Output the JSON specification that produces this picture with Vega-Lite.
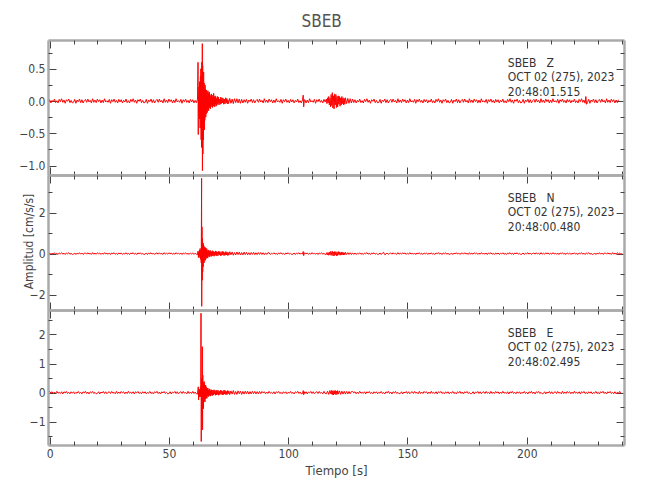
{
"$schema": "https://vega.github.io/schema/vega-lite/v6.json",
"padding": {"left": 18, "top": 12, "right": 5, "bottom": 5},
"title": {"text": "SBEB", "fontSize": 17, "font": "DejaVu Sans Condensed, Roboto, sans-serif", "color": "#555555", "fontWeight": "normal", "anchor": "middle", "offset": 9},
"spacing": 0,
"bounds": "flush",
"config": {
 "view": {"stroke": null},
 "font": "DejaVu Sans Condensed, Roboto, sans-serif",
 "axis": {"domainColor": "#aaaaaa", "domainWidth": 2.5, "tickColor": "#444444", "tickWidth": 1, "grid": false, "labelFont": "DejaVu Sans Condensed, Roboto, sans-serif", "labelFontSize": 12, "labelColor": "#444444", "labelPadding": 3, "labelFlush": false, "labelOverlap": false, "labelBound": false, "titleFont": "DejaVu Sans Condensed, Roboto, sans-serif", "titleFontSize": 12, "titleColor": "#444444", "titleFontWeight": "normal"}
},
"datasets": {
"z": [
{"t":0,"a":0.02},{"t":0.5,"a":-0.03},{"t":1,"a":0.01},{"t":1.5,"a":-0.015},{"t":2,"a":0.03},{"t":2.5,"a":-0.025},{"t":3,"a":0.005},{"t":3.5,"a":-0.03},{"t":4,"a":0.025},{"t":4.5,"a":-0.01},{"t":5,"a":0.035},{"t":5.5,"a":-0.02},{"t":6,"a":0.015},{"t":6.5,"a":-0.035},{"t":7,"a":0.02},{"t":7.5,"a":-0.005},{"t":8,"a":0.03},{"t":8.5,"a":-0.025},{"t":9,"a":0.01},{"t":9.5,"a":-0.03},
{"t":10,"a":-0.02},{"t":10.5,"a":0.025},{"t":11,"a":-0.035},{"t":11.5,"a":0.015},{"t":12,"a":-0.01},{"t":12.5,"a":0.03},{"t":13,"a":-0.025},{"t":13.5,"a":0.02},{"t":14,"a":-0.03},{"t":14.5,"a":0.005},{"t":15,"a":0.025},{"t":15.5,"a":-0.02},{"t":16,"a":0.03},{"t":16.5,"a":-0.015},{"t":17,"a":0.01},{"t":17.5,"a":-0.03},{"t":18,"a":0.035},{"t":18.5,"a":-0.02},{"t":19,"a":0.015},{"t":19.5,"a":-0.025},
{"t":20,"a":0.03},{"t":20.5,"a":-0.01},{"t":21,"a":0.02},{"t":21.5,"a":-0.03},{"t":22,"a":0.015},{"t":22.5,"a":-0.025},{"t":23,"a":0.035},{"t":23.5,"a":-0.015},{"t":24,"a":0.005},{"t":24.5,"a":-0.02},{"t":25,"a":0.025},{"t":25.5,"a":-0.035},{"t":26,"a":0.02},{"t":26.5,"a":-0.01},{"t":27,"a":0.03},{"t":27.5,"a":-0.02},{"t":28,"a":0.01},{"t":28.5,"a":-0.03},{"t":29,"a":0.025},{"t":29.5,"a":-0.015},
{"t":30,"a":0.02},{"t":30.5,"a":-0.03},{"t":31,"a":0.01},{"t":31.5,"a":-0.015},{"t":32,"a":0.03},{"t":32.5,"a":-0.025},{"t":33,"a":0.005},{"t":33.5,"a":-0.03},{"t":34,"a":0.025},{"t":34.5,"a":-0.01},{"t":35,"a":0.035},{"t":35.5,"a":-0.02},{"t":36,"a":0.015},{"t":36.5,"a":-0.035},{"t":37,"a":0.02},{"t":37.5,"a":-0.005},{"t":38,"a":0.03},{"t":38.5,"a":-0.025},{"t":39,"a":0.01},{"t":39.5,"a":-0.03},
{"t":40,"a":-0.02},{"t":40.5,"a":0.025},{"t":41,"a":-0.035},{"t":41.5,"a":0.015},{"t":42,"a":-0.01},{"t":42.5,"a":0.03},{"t":43,"a":-0.025},{"t":43.5,"a":0.02},{"t":44,"a":-0.03},{"t":44.5,"a":0.005},{"t":45,"a":0.025},{"t":45.5,"a":-0.02},{"t":46,"a":0.03},{"t":46.5,"a":-0.015},{"t":47,"a":0.01},{"t":47.5,"a":-0.03},{"t":48,"a":0.035},{"t":48.5,"a":-0.02},{"t":49,"a":0.015},{"t":49.5,"a":-0.025},
{"t":50,"a":0.03},{"t":50.5,"a":-0.01},{"t":51,"a":0.02},{"t":51.5,"a":-0.03},{"t":52,"a":0.015},{"t":52.5,"a":-0.025},{"t":53,"a":0.035},{"t":53.5,"a":-0.015},{"t":54,"a":0.005},{"t":54.5,"a":-0.02},{"t":55,"a":0.025},{"t":55.5,"a":-0.035},{"t":56,"a":0.02},{"t":56.5,"a":-0.01},{"t":57,"a":0.03},{"t":57.5,"a":-0.02},{"t":58,"a":0.01},{"t":58.5,"a":-0.03},{"t":59,"a":0.025},{"t":59.5,"a":-0.015},
{"t":60,"a":0.02},{"t":60.5,"a":-0.03},{"t":61,"a":0.01},{"t":61.5,"a":-0.025},{"t":62,"a":0.03},
{"t":62.2,"a":0.6},{"t":62.3,"a":-0.52},{"t":62.4,"a":0.08},{"t":62.5,"a":-0.15},{"t":62.6,"a":0.22},{"t":62.7,"a":-0.1},{"t":62.8,"a":0.3},{"t":62.9,"a":-0.28},{"t":63,"a":0.15},{"t":63.1,"a":-0.42},{"t":63.2,"a":0.38},{"t":63.3,"a":-0.25},{"t":63.4,"a":0.5},{"t":63.5,"a":-0.6},{"t":63.6,"a":0.3},{"t":63.7,"a":-0.72},{"t":63.8,"a":0.6},{"t":63.9,"a":-0.45},{"t":64,"a":0.89},{"t":64.05,"a":-1.08},{"t":64.15,"a":0.55},{"t":64.25,"a":-0.82},{"t":64.35,"a":0.3},{"t":64.45,"a":-0.6},{"t":64.55,"a":0.45},{"t":64.65,"a":-0.35},{"t":64.75,"a":0.28},{"t":64.85,"a":-0.45},{"t":64.95,"a":0.2},{"t":65.05,"a":-0.3},{"t":65.15,"a":0.25},{"t":65.25,"a":-0.15},{"t":65.35,"a":0.18},{"t":65.45,"a":-0.25},{"t":65.55,"a":0.1},{"t":65.65,"a":-0.2},{"t":65.75,"a":0.17},{"t":65.85,"a":-0.1},{"t":65.95,"a":0.14},{"t":66.05,"a":-0.18},{"t":66.15,"a":0.08},{"t":66.25,"a":-0.13},{"t":66.35,"a":0.16},{"t":66.45,"a":-0.09},{"t":66.55,"a":0.12},{"t":66.65,"a":-0.15},{"t":66.75,"a":0.06},{"t":66.85,"a":-0.11},{"t":66.95,"a":0.14},{"t":67.1,"a":-0.08},{"t":67.25,"a":0.1},{"t":67.4,"a":-0.12},{"t":67.55,"a":0.07},{"t":67.7,"a":-0.09},{"t":67.85,"a":0.11},{"t":68,"a":-0.06},{"t":68.15,"a":0.09},{"t":68.3,"a":-0.1},{"t":68.45,"a":0.05},{"t":68.6,"a":-0.08},{"t":68.75,"a":0.12},{"t":68.9,"a":-0.07},{"t":69.05,"a":0.06},{"t":69.2,"a":-0.09},{"t":69.35,"a":0.08},{"t":69.5,"a":-0.05},{"t":69.65,"a":0.07},{"t":69.8,"a":-0.08},{"t":70,"a":0.04},{"t":70.2,"a":-0.06},{"t":70.4,"a":0.07},{"t":70.6,"a":-0.04},{"t":70.8,"a":0.06},{"t":71,"a":-0.06},{"t":71.25,"a":0.03},{"t":71.5,"a":-0.05},{"t":71.75,"a":0.06},{"t":72,"a":-0.04},{"t":72.25,"a":0.05},{"t":72.5,"a":-0.03},{"t":72.75,"a":0.04},{"t":73,"a":-0.05},{"t":73.25,"a":0.03},{"t":73.5,"a":-0.045},{"t":73.75,"a":0.05},{"t":74,"a":-0.03},{"t":74.25,"a":0.04},{"t":74.5,"a":-0.045},{"t":74.75,"a":0.02},{"t":75,"a":-0.04},{"t":75.5,"a":0.04},{"t":76,"a":-0.035},{"t":76.5,"a":0.03},{"t":77,"a":-0.04},{"t":77.5,"a":0.035},{"t":78,"a":-0.025},{"t":78.5,"a":0.035},{"t":79,"a":-0.03},{"t":79.5,"a":0.03},{"t":80,"a":-0.035},{"t":80.5,"a":0.025},{"t":81,"a":-0.03},{"t":81.5,"a":0.02},
{"t":82,"a":-0.02},{"t":82.5,"a":0.025},{"t":83,"a":-0.035},{"t":83.5,"a":0.015},{"t":84,"a":-0.01},{"t":84.5,"a":0.03},{"t":85,"a":-0.025},{"t":85.5,"a":0.02},{"t":86,"a":-0.03},{"t":86.5,"a":0.005},{"t":87,"a":0.025},{"t":87.5,"a":-0.02},{"t":88,"a":0.03},{"t":88.5,"a":-0.015},{"t":89,"a":0.01},{"t":89.5,"a":-0.03},{"t":90,"a":0.035},{"t":90.5,"a":-0.02},{"t":91,"a":0.015},{"t":91.5,"a":-0.025},
{"t":92,"a":0.03},{"t":92.5,"a":-0.01},{"t":93,"a":0.02},{"t":93.5,"a":-0.03},{"t":94,"a":0.015},{"t":94.5,"a":-0.025},{"t":95,"a":0.035},{"t":95.5,"a":-0.015},{"t":96,"a":0.005},{"t":96.5,"a":-0.02},{"t":97,"a":0.025},{"t":97.5,"a":-0.035},{"t":98,"a":0.02},{"t":98.5,"a":-0.01},{"t":99,"a":0.03},{"t":99.5,"a":-0.02},{"t":100,"a":0.01},{"t":100.5,"a":-0.03},{"t":101,"a":0.025},{"t":101.5,"a":-0.015},
{"t":102,"a":0.02},{"t":102.5,"a":-0.03},{"t":103,"a":0.01},{"t":103.5,"a":-0.015},{"t":104,"a":0.03},{"t":104.5,"a":-0.025},{"t":105,"a":0.005},{"t":105.5,"a":-0.03},
{"t":106,"a":0.02},{"t":106.3,"a":0.09},{"t":106.5,"a":-0.09},{"t":106.8,"a":0.02},
{"t":107,"a":0.02},{"t":107.5,"a":-0.03},{"t":108,"a":0.015},{"t":108.5,"a":-0.025},{"t":109,"a":0.035},{"t":109.5,"a":-0.015},{"t":110,"a":0.005},{"t":110.5,"a":-0.02},{"t":111,"a":0.025},{"t":111.5,"a":-0.035},{"t":112,"a":0.02},{"t":112.5,"a":-0.01},{"t":113,"a":0.03},{"t":113.5,"a":-0.02},{"t":114,"a":0.01},{"t":114.5,"a":-0.03},{"t":115,"a":0.025},{"t":115.5,"a":-0.015},
{"t":116,"a":0.03},{"t":116.25,"a":-0.04},{"t":116.5,"a":0.05},{"t":116.75,"a":-0.03},{"t":117,"a":0.07},{"t":117.25,"a":-0.06},{"t":117.5,"a":0.04},{"t":117.75,"a":-0.09},{"t":118,"a":0.1},{"t":118.25,"a":-0.07},{"t":118.5,"a":0.13},{"t":118.75,"a":-0.11},{"t":119,"a":0.08},{"t":119.25,"a":-0.12},{"t":119.5,"a":0.11},{"t":119.75,"a":-0.06},{"t":120,"a":0.1},{"t":120.25,"a":-0.1},{"t":120.5,"a":0.07},{"t":120.75,"a":-0.09},{"t":121,"a":0.08},{"t":121.25,"a":-0.05},{"t":121.5,"a":0.07},{"t":121.75,"a":-0.08},{"t":122,"a":0.05},{"t":122.25,"a":-0.06},{"t":122.5,"a":0.07},{"t":122.75,"a":-0.04},{"t":123,"a":0.05},{"t":123.25,"a":-0.06},{"t":123.5,"a":0.04},{"t":123.75,"a":-0.05},{"t":124,"a":0.05},{"t":124.5,"a":-0.04},{"t":125,"a":0.04},{"t":125.5,"a":-0.035},{"t":126,"a":0.035},{"t":126.5,"a":-0.03},{"t":127,"a":0.03},{"t":127.5,"a":-0.025},
{"t":128,"a":0.02},{"t":128.5,"a":-0.03},{"t":129,"a":0.01},{"t":129.5,"a":-0.015},{"t":130,"a":0.03},{"t":130.5,"a":-0.025},{"t":131,"a":0.005},{"t":131.5,"a":-0.03},{"t":132,"a":0.025},{"t":132.5,"a":-0.01},{"t":133,"a":0.035},{"t":133.5,"a":-0.02},{"t":134,"a":0.015},{"t":134.5,"a":-0.035},{"t":135,"a":0.02},{"t":135.5,"a":-0.005},{"t":136,"a":0.03},{"t":136.5,"a":-0.025},{"t":137,"a":0.01},{"t":137.5,"a":-0.03},
{"t":138,"a":-0.02},{"t":138.5,"a":0.025},{"t":139,"a":-0.035},{"t":139.5,"a":0.015},{"t":140,"a":-0.01},{"t":140.5,"a":0.03},{"t":141,"a":-0.025},{"t":141.5,"a":0.02},{"t":142,"a":-0.03},{"t":142.5,"a":0.005},{"t":143,"a":0.025},{"t":143.5,"a":-0.02},{"t":144,"a":0.03},{"t":144.5,"a":-0.015},{"t":145,"a":0.01},{"t":145.5,"a":-0.03},{"t":146,"a":0.035},{"t":146.5,"a":-0.02},{"t":147,"a":0.015},{"t":147.5,"a":-0.025},
{"t":148,"a":0.03},{"t":148.5,"a":-0.01},{"t":149,"a":0.02},{"t":149.5,"a":-0.03},{"t":150,"a":0.015},{"t":150.5,"a":-0.025},{"t":151,"a":0.035},{"t":151.5,"a":-0.015},{"t":152,"a":0.005},{"t":152.5,"a":-0.02},{"t":153,"a":0.025},{"t":153.5,"a":-0.035},{"t":154,"a":0.02},{"t":154.5,"a":-0.01},{"t":155,"a":0.03},{"t":155.5,"a":-0.02},{"t":156,"a":0.01},{"t":156.5,"a":-0.03},{"t":157,"a":0.025},{"t":157.5,"a":-0.015},
{"t":158,"a":0.02},{"t":158.5,"a":-0.03},{"t":159,"a":0.01},{"t":159.5,"a":-0.015},{"t":160,"a":0.03},{"t":160.5,"a":-0.025},{"t":161,"a":0.005},{"t":161.5,"a":-0.03},{"t":162,"a":0.025},{"t":162.5,"a":-0.01},{"t":163,"a":0.035},{"t":163.5,"a":-0.02},{"t":164,"a":0.015},{"t":164.5,"a":-0.035},{"t":165,"a":0.02},{"t":165.5,"a":-0.005},{"t":166,"a":0.03},{"t":166.5,"a":-0.025},{"t":167,"a":0.01},{"t":167.5,"a":-0.03},
{"t":168,"a":-0.02},{"t":168.5,"a":0.025},{"t":169,"a":-0.035},{"t":169.5,"a":0.015},{"t":170,"a":-0.01},{"t":170.5,"a":0.03},{"t":171,"a":-0.025},{"t":171.5,"a":0.02},{"t":172,"a":-0.03},{"t":172.5,"a":0.005},{"t":173,"a":0.025},{"t":173.5,"a":-0.02},{"t":174,"a":0.03},{"t":174.5,"a":-0.015},{"t":175,"a":0.01},{"t":175.5,"a":-0.03},{"t":176,"a":0.035},{"t":176.5,"a":-0.02},{"t":177,"a":0.015},{"t":177.5,"a":-0.025},
{"t":178,"a":0.03},{"t":178.5,"a":-0.01},{"t":179,"a":0.02},{"t":179.5,"a":-0.03},{"t":180,"a":0.015},{"t":180.5,"a":-0.025},{"t":181,"a":0.035},{"t":181.5,"a":-0.015},{"t":182,"a":0.005},{"t":182.5,"a":-0.02},{"t":183,"a":0.025},{"t":183.5,"a":-0.035},{"t":184,"a":0.02},{"t":184.5,"a":-0.01},{"t":185,"a":0.03},{"t":185.5,"a":-0.02},{"t":186,"a":0.01},{"t":186.5,"a":-0.03},{"t":187,"a":0.025},{"t":187.5,"a":-0.015},
{"t":188,"a":0.02},{"t":188.5,"a":-0.03},{"t":189,"a":0.01},{"t":189.5,"a":-0.015},{"t":190,"a":0.03},{"t":190.5,"a":-0.025},{"t":191,"a":0.005},{"t":191.5,"a":-0.03},{"t":192,"a":0.025},{"t":192.5,"a":-0.01},{"t":193,"a":0.035},{"t":193.5,"a":-0.02},{"t":194,"a":0.015},{"t":194.5,"a":-0.035},{"t":195,"a":0.02},{"t":195.5,"a":-0.005},{"t":196,"a":0.03},{"t":196.5,"a":-0.025},{"t":197,"a":0.01},{"t":197.5,"a":-0.03},
{"t":198,"a":-0.02},{"t":198.5,"a":0.025},{"t":199,"a":-0.035},{"t":199.5,"a":0.015},{"t":200,"a":-0.01},{"t":200.5,"a":0.03},{"t":201,"a":-0.025},{"t":201.5,"a":0.02},{"t":202,"a":-0.03},{"t":202.5,"a":0.005},{"t":203,"a":0.025},{"t":203.5,"a":-0.02},{"t":204,"a":0.03},{"t":204.5,"a":-0.015},{"t":205,"a":0.01},{"t":205.5,"a":-0.03},{"t":206,"a":0.035},{"t":206.5,"a":-0.02},{"t":207,"a":0.015},{"t":207.5,"a":-0.025},
{"t":208,"a":0.03},{"t":208.5,"a":-0.01},{"t":209,"a":0.02},{"t":209.5,"a":-0.03},{"t":210,"a":0.015},{"t":210.5,"a":-0.025},{"t":211,"a":0.035},{"t":211.5,"a":-0.015},{"t":212,"a":0.005},{"t":212.5,"a":-0.02},{"t":213,"a":0.025},{"t":213.5,"a":-0.035},{"t":214,"a":0.02},{"t":214.5,"a":-0.01},{"t":215,"a":0.03},{"t":215.5,"a":-0.02},{"t":216,"a":0.01},{"t":216.5,"a":-0.03},{"t":217,"a":0.025},{"t":217.5,"a":-0.015},
{"t":218,"a":0.02},{"t":218.5,"a":-0.03},{"t":219,"a":0.01},{"t":219.5,"a":-0.015},{"t":220,"a":0.03},{"t":220.5,"a":-0.025},{"t":221,"a":0.005},{"t":221.5,"a":-0.03},{"t":222,"a":0.025},{"t":222.5,"a":-0.01},{"t":223,"a":0.035},{"t":223.5,"a":-0.02},{"t":224,"a":0.015},{"t":224.5,"a":-0.035},
{"t":224.8,"a":0.07},{"t":225.1,"a":-0.05},
{"t":225.5,"a":-0.02},{"t":226,"a":0.025},{"t":226.5,"a":-0.035},{"t":227,"a":0.015},{"t":227.5,"a":-0.01},{"t":228,"a":0.03},{"t":228.5,"a":-0.025},{"t":229,"a":0.02},{"t":229.5,"a":-0.03},{"t":230,"a":0.005},{"t":230.5,"a":0.025},{"t":231,"a":-0.02},{"t":231.5,"a":0.03},{"t":232,"a":-0.015},{"t":232.5,"a":0.01},{"t":233,"a":-0.03},{"t":233.5,"a":0.035},{"t":234,"a":-0.02},{"t":234.5,"a":0.015},{"t":235,"a":-0.025},{"t":235.5,"a":0.03},{"t":236,"a":-0.01},{"t":236.5,"a":0.02},{"t":237,"a":-0.03},{"t":237.5,"a":0.015},{"t":238,"a":-0.025},{"t":238.5,"a":0.02}
],
"n": [
{"t":0,"a":0.03},{"t":0.5,"a":-0.04},{"t":1,"a":0.01},{"t":1.5,"a":-0.02},{"t":2,"a":0.04},{"t":2.5,"a":-0.03},{"t":3,"a":0.01},{"t":3.5,"a":-0.045},{"t":4,"a":0.03},{"t":4.5,"a":-0.01},{"t":5,"a":0.045},{"t":5.5,"a":-0.03},{"t":6,"a":0.02},{"t":6.5,"a":-0.045},{"t":7,"a":0.03},{"t":7.5,"a":-0.01},{"t":8,"a":0.04},{"t":8.5,"a":-0.03},{"t":9,"a":0.01},{"t":9.5,"a":-0.04},
{"t":10,"a":-0.03},{"t":10.5,"a":0.03},{"t":11,"a":-0.045},{"t":11.5,"a":0.02},{"t":12,"a":-0.01},{"t":12.5,"a":0.04},{"t":13,"a":-0.03},{"t":13.5,"a":0.03},{"t":14,"a":-0.04},{"t":14.5,"a":0.01},{"t":15,"a":0.03},{"t":15.5,"a":-0.03},{"t":16,"a":0.04},{"t":16.5,"a":-0.02},{"t":17,"a":0.01},{"t":17.5,"a":-0.04},{"t":18,"a":0.045},{"t":18.5,"a":-0.03},{"t":19,"a":0.02},{"t":19.5,"a":-0.03},
{"t":20,"a":0.04},{"t":20.5,"a":-0.01},{"t":21,"a":0.03},{"t":21.5,"a":-0.04},{"t":22,"a":0.02},{"t":22.5,"a":-0.03},{"t":23,"a":0.045},{"t":23.5,"a":-0.02},{"t":24,"a":0.01},{"t":24.5,"a":-0.03},{"t":25,"a":0.03},{"t":25.5,"a":-0.045},{"t":26,"a":0.03},{"t":26.5,"a":-0.01},{"t":27,"a":0.04},{"t":27.5,"a":-0.03},{"t":28,"a":0.01},{"t":28.5,"a":-0.04},{"t":29,"a":0.03},{"t":29.5,"a":-0.02},
{"t":30,"a":0.03},{"t":30.5,"a":-0.04},{"t":31,"a":0.01},{"t":31.5,"a":-0.02},{"t":32,"a":0.04},{"t":32.5,"a":-0.03},{"t":33,"a":0.01},{"t":33.5,"a":-0.045},{"t":34,"a":0.03},{"t":34.5,"a":-0.01},{"t":35,"a":0.045},{"t":35.5,"a":-0.03},{"t":36,"a":0.02},{"t":36.5,"a":-0.045},{"t":37,"a":0.03},{"t":37.5,"a":-0.01},{"t":38,"a":0.04},{"t":38.5,"a":-0.03},{"t":39,"a":0.01},{"t":39.5,"a":-0.04},
{"t":40,"a":-0.03},{"t":40.5,"a":0.03},{"t":41,"a":-0.045},{"t":41.5,"a":0.02},{"t":42,"a":-0.01},{"t":42.5,"a":0.04},{"t":43,"a":-0.03},{"t":43.5,"a":0.03},{"t":44,"a":-0.04},{"t":44.5,"a":0.01},{"t":45,"a":0.03},{"t":45.5,"a":-0.03},{"t":46,"a":0.04},{"t":46.5,"a":-0.02},{"t":47,"a":0.01},{"t":47.5,"a":-0.04},{"t":48,"a":0.045},{"t":48.5,"a":-0.03},{"t":49,"a":0.02},{"t":49.5,"a":-0.03},
{"t":50,"a":0.04},{"t":50.5,"a":-0.01},{"t":51,"a":0.03},{"t":51.5,"a":-0.04},{"t":52,"a":0.02},{"t":52.5,"a":-0.03},{"t":53,"a":0.045},{"t":53.5,"a":-0.02},{"t":54,"a":0.01},{"t":54.5,"a":-0.03},{"t":55,"a":0.03},{"t":55.5,"a":-0.045},{"t":56,"a":0.03},{"t":56.5,"a":-0.01},{"t":57,"a":0.04},{"t":57.5,"a":-0.03},{"t":58,"a":0.01},{"t":58.5,"a":-0.04},{"t":59,"a":0.03},{"t":59.5,"a":-0.02},
{"t":60,"a":0.03},{"t":60.5,"a":-0.04},{"t":61,"a":0.02},{"t":61.5,"a":-0.03},
{"t":62,"a":-0.05},{"t":62.2,"a":0.12},{"t":62.35,"a":-0.18},{"t":62.5,"a":0.08},{"t":62.65,"a":-0.2},{"t":62.8,"a":0.18},{"t":62.95,"a":-0.1},{"t":63.1,"a":0.25},{"t":63.25,"a":-0.28},{"t":63.4,"a":0.15},{"t":63.55,"a":-0.45},{"t":63.7,"a":3.67},{"t":63.75,"a":-2.57},{"t":63.85,"a":1.3},{"t":63.95,"a":-1.3},{"t":64.05,"a":0.73},{"t":64.15,"a":-0.9},{"t":64.25,"a":0.4},{"t":64.35,"a":-0.65},{"t":64.45,"a":0.5},{"t":64.55,"a":-0.35},{"t":64.65,"a":0.38},{"t":64.75,"a":-0.45},{"t":64.85,"a":0.25},{"t":64.95,"a":-0.3},{"t":65.05,"a":0.32},{"t":65.15,"a":-0.2},{"t":65.25,"a":0.28},{"t":65.35,"a":-0.33},{"t":65.45,"a":0.15},{"t":65.55,"a":-0.25},{"t":65.65,"a":0.22},{"t":65.75,"a":-0.15},{"t":65.85,"a":0.25},{"t":65.95,"a":-0.2},{"t":66.1,"a":0.12},{"t":66.25,"a":-0.22},{"t":66.4,"a":0.18},{"t":66.55,"a":-0.1},{"t":66.7,"a":0.16},{"t":66.85,"a":-0.17},{"t":67,"a":0.1},{"t":67.15,"a":-0.14},{"t":67.3,"a":0.15},{"t":67.45,"a":-0.08},{"t":67.6,"a":0.13},{"t":67.75,"a":-0.14},{"t":67.9,"a":0.07},{"t":68.1,"a":-0.12},{"t":68.3,"a":0.14},{"t":68.5,"a":-0.09},{"t":68.7,"a":0.1},{"t":68.9,"a":-0.13},{"t":69.1,"a":0.08},{"t":69.3,"a":-0.1},{"t":69.5,"a":0.13},{"t":69.7,"a":-0.07},{"t":69.9,"a":0.1},{"t":70.1,"a":-0.12},{"t":70.35,"a":0.08},{"t":70.6,"a":-0.1},{"t":70.85,"a":0.11},{"t":71.1,"a":-0.06},{"t":71.35,"a":0.1},{"t":71.6,"a":-0.1},{"t":71.85,"a":0.06},{"t":72.1,"a":-0.09},{"t":72.35,"a":0.11},{"t":72.6,"a":-0.07},{"t":72.85,"a":0.09},{"t":73.1,"a":-0.1},{"t":73.35,"a":0.05},{"t":73.6,"a":-0.08},{"t":73.85,"a":0.1},{"t":74.1,"a":-0.07},{"t":74.35,"a":0.08},{"t":74.6,"a":-0.09},{"t":74.85,"a":0.05},{"t":75.1,"a":-0.08},{"t":75.5,"a":0.09},{"t":76,"a":-0.06},{"t":76.5,"a":0.08},{"t":77,"a":-0.08},{"t":77.5,"a":0.05},{"t":78,"a":-0.07},{"t":78.5,"a":0.08},{"t":79,"a":-0.05},{"t":79.5,"a":0.07},{"t":80,"a":-0.07},{"t":80.5,"a":0.05},{"t":81,"a":-0.06},{"t":81.5,"a":0.07},{"t":82,"a":-0.05},{"t":82.5,"a":0.06},{"t":83,"a":-0.06},{"t":83.5,"a":0.04},{"t":84,"a":-0.06},{"t":84.5,"a":0.05},{"t":85,"a":-0.04},{"t":85.5,"a":0.06},{"t":86,"a":-0.05},{"t":86.5,"a":0.04},{"t":87,"a":-0.05},{"t":87.5,"a":0.05},{"t":88,"a":-0.04},{"t":88.5,"a":0.05},{"t":89,"a":-0.045},{"t":89.5,"a":0.04},{"t":90,"a":-0.05},{"t":90.5,"a":0.035},{"t":91,"a":-0.04},{"t":91.5,"a":0.045},
{"t":92,"a":0.03},{"t":92.5,"a":-0.04},{"t":93,"a":0.01},{"t":93.5,"a":-0.02},{"t":94,"a":0.04},{"t":94.5,"a":-0.03},{"t":95,"a":0.01},{"t":95.5,"a":-0.045},{"t":96,"a":0.03},{"t":96.5,"a":-0.01},{"t":97,"a":0.045},{"t":97.5,"a":-0.03},{"t":98,"a":0.02},{"t":98.5,"a":-0.045},{"t":99,"a":0.03},{"t":99.5,"a":-0.01},{"t":100,"a":0.04},{"t":100.5,"a":-0.03},{"t":101,"a":0.01},{"t":101.5,"a":-0.04},
{"t":102,"a":-0.03},{"t":102.5,"a":0.03},{"t":103,"a":-0.045},{"t":103.5,"a":0.02},{"t":104,"a":-0.01},{"t":104.5,"a":0.04},{"t":105,"a":-0.03},{"t":105.5,"a":0.03},
{"t":106,"a":-0.03},{"t":106.3,"a":0.1},{"t":106.5,"a":-0.1},{"t":106.8,"a":0.03},
{"t":107,"a":0.04},{"t":107.5,"a":-0.01},{"t":108,"a":0.03},{"t":108.5,"a":-0.04},{"t":109,"a":0.02},{"t":109.5,"a":-0.03},{"t":110,"a":0.045},{"t":110.5,"a":-0.02},{"t":111,"a":0.01},{"t":111.5,"a":-0.03},{"t":112,"a":0.03},{"t":112.5,"a":-0.045},{"t":113,"a":0.03},{"t":113.5,"a":-0.01},{"t":114,"a":0.04},{"t":114.5,"a":-0.03},{"t":115,"a":0.01},{"t":115.5,"a":-0.04},
{"t":116,"a":-0.04},{"t":116.25,"a":0.05},{"t":116.5,"a":-0.06},{"t":116.75,"a":0.04},{"t":117,"a":-0.08},{"t":117.25,"a":0.07},{"t":117.5,"a":-0.05},{"t":117.75,"a":0.1},{"t":118,"a":-0.09},{"t":118.25,"a":0.06},{"t":118.5,"a":0.12},{"t":118.75,"a":-0.1},{"t":119,"a":0.07},{"t":119.25,"a":-0.12},{"t":119.5,"a":0.1},{"t":119.75,"a":-0.06},{"t":120,"a":0.09},{"t":120.25,"a":-0.11},{"t":120.5,"a":0.06},{"t":120.75,"a":-0.09},{"t":121,"a":0.1},{"t":121.25,"a":-0.05},{"t":121.5,"a":0.08},{"t":121.75,"a":-0.08},{"t":122,"a":0.05},{"t":122.25,"a":-0.07},{"t":122.5,"a":0.08},{"t":122.75,"a":-0.05},{"t":123,"a":0.06},{"t":123.25,"a":-0.07},{"t":123.5,"a":0.04},{"t":123.75,"a":-0.06},{"t":124,"a":0.06},{"t":124.5,"a":-0.05},{"t":125,"a":0.05},{"t":125.5,"a":-0.045},{"t":126,"a":0.04},{"t":126.5,"a":-0.045},{"t":127,"a":0.035},{"t":127.5,"a":-0.04},
{"t":128,"a":0.03},{"t":128.5,"a":-0.04},{"t":129,"a":0.01},{"t":129.5,"a":-0.02},{"t":130,"a":0.04},{"t":130.5,"a":-0.03},{"t":131,"a":0.01},{"t":131.5,"a":-0.045},{"t":132,"a":0.03},{"t":132.5,"a":-0.01},{"t":133,"a":0.045},{"t":133.5,"a":-0.03},{"t":134,"a":0.02},{"t":134.5,"a":-0.045},{"t":135,"a":0.03},{"t":135.5,"a":-0.01},{"t":136,"a":0.04},{"t":136.5,"a":-0.03},{"t":137,"a":0.01},{"t":137.5,"a":-0.04},
{"t":138,"a":-0.03},{"t":138.5,"a":0.03},{"t":139,"a":-0.045},{"t":139.5,"a":0.02},{"t":140,"a":0.06},{"t":140.5,"a":-0.05},{"t":141,"a":-0.03},{"t":141.5,"a":0.03},{"t":142,"a":-0.04},{"t":142.5,"a":0.01},{"t":143,"a":0.03},{"t":143.5,"a":-0.03},{"t":144,"a":0.04},{"t":144.5,"a":-0.02},{"t":145,"a":0.01},{"t":145.5,"a":-0.04},{"t":146,"a":0.045},{"t":146.5,"a":-0.03},{"t":147,"a":0.02},{"t":147.5,"a":-0.03},
{"t":148,"a":0.04},{"t":148.5,"a":-0.01},{"t":149,"a":0.03},{"t":149.5,"a":-0.04},{"t":150,"a":0.02},{"t":150.5,"a":-0.03},{"t":151,"a":0.045},{"t":151.5,"a":-0.02},{"t":152,"a":0.01},{"t":152.5,"a":-0.03},{"t":153,"a":0.03},{"t":153.5,"a":-0.045},{"t":154,"a":0.03},{"t":154.5,"a":-0.01},{"t":155,"a":0.04},{"t":155.5,"a":-0.03},{"t":156,"a":0.01},{"t":156.5,"a":-0.04},{"t":157,"a":0.03},{"t":157.5,"a":-0.02},
{"t":158,"a":0.03},{"t":158.5,"a":-0.04},{"t":159,"a":0.01},{"t":159.5,"a":-0.02},{"t":160,"a":0.04},{"t":160.5,"a":-0.03},{"t":161,"a":0.01},{"t":161.5,"a":-0.045},{"t":162,"a":0.03},{"t":162.5,"a":-0.01},{"t":163,"a":0.045},{"t":163.5,"a":-0.03},{"t":164,"a":0.02},{"t":164.5,"a":-0.045},{"t":165,"a":0.03},{"t":165.5,"a":-0.01},{"t":166,"a":0.04},{"t":166.5,"a":-0.03},{"t":167,"a":0.01},{"t":167.5,"a":-0.04},
{"t":168,"a":-0.03},{"t":168.5,"a":0.03},{"t":169,"a":-0.045},{"t":169.5,"a":0.02},{"t":170,"a":-0.01},{"t":170.5,"a":0.04},{"t":171,"a":-0.03},{"t":171.5,"a":0.03},{"t":172,"a":-0.04},{"t":172.5,"a":0.01},{"t":173,"a":0.03},{"t":173.5,"a":-0.03},{"t":174,"a":0.04},{"t":174.5,"a":-0.02},{"t":175,"a":0.01},{"t":175.5,"a":-0.04},{"t":176,"a":0.045},{"t":176.5,"a":-0.03},{"t":177,"a":0.02},{"t":177.5,"a":-0.03},
{"t":178,"a":0.04},{"t":178.5,"a":-0.01},{"t":179,"a":0.03},{"t":179.5,"a":-0.04},{"t":180,"a":0.02},{"t":180.5,"a":-0.03},{"t":181,"a":0.045},{"t":181.5,"a":-0.02},{"t":182,"a":0.01},{"t":182.5,"a":-0.03},{"t":183,"a":0.03},{"t":183.5,"a":-0.045},{"t":184,"a":0.03},{"t":184.5,"a":-0.01},{"t":185,"a":0.04},{"t":185.5,"a":-0.03},{"t":186,"a":0.01},{"t":186.5,"a":-0.04},{"t":187,"a":0.03},{"t":187.5,"a":-0.02},
{"t":188,"a":0.03},{"t":188.5,"a":-0.04},{"t":189,"a":0.01},{"t":189.5,"a":-0.02},{"t":190,"a":0.04},{"t":190.5,"a":-0.03},{"t":191,"a":0.01},{"t":191.5,"a":-0.045},{"t":192,"a":0.03},{"t":192.5,"a":-0.01},{"t":193,"a":0.045},{"t":193.5,"a":-0.03},{"t":194,"a":0.02},{"t":194.5,"a":-0.045},{"t":195,"a":0.03},{"t":195.5,"a":-0.01},{"t":196,"a":0.04},{"t":196.5,"a":-0.03},{"t":197,"a":0.01},{"t":197.5,"a":-0.04},
{"t":198,"a":-0.03},{"t":198.5,"a":0.03},{"t":199,"a":-0.045},{"t":199.5,"a":0.02},{"t":200,"a":-0.01},{"t":200.5,"a":0.04},{"t":201,"a":-0.03},{"t":201.5,"a":0.03},{"t":202,"a":-0.04},{"t":202.5,"a":0.01},{"t":203,"a":0.03},{"t":203.5,"a":-0.03},{"t":204,"a":0.04},{"t":204.5,"a":-0.02},{"t":205,"a":0.01},{"t":205.5,"a":-0.04},{"t":206,"a":0.045},{"t":206.5,"a":-0.03},{"t":207,"a":0.02},{"t":207.5,"a":-0.03},
{"t":208,"a":0.04},{"t":208.5,"a":-0.01},{"t":209,"a":0.03},{"t":209.5,"a":-0.04},{"t":210,"a":0.02},{"t":210.5,"a":-0.03},{"t":211,"a":0.045},{"t":211.5,"a":-0.02},{"t":212,"a":0.01},{"t":212.5,"a":-0.03},{"t":213,"a":0.03},{"t":213.5,"a":-0.045},{"t":214,"a":0.03},{"t":214.5,"a":-0.01},{"t":215,"a":0.04},{"t":215.5,"a":-0.03},{"t":216,"a":0.01},{"t":216.5,"a":-0.04},{"t":217,"a":0.03},{"t":217.5,"a":-0.02},
{"t":218,"a":0.03},{"t":218.5,"a":-0.04},{"t":219,"a":0.01},{"t":219.5,"a":-0.02},{"t":220,"a":0.04},{"t":220.5,"a":-0.03},{"t":221,"a":0.01},{"t":221.5,"a":-0.045},{"t":222,"a":0.03},{"t":222.5,"a":-0.01},{"t":223,"a":0.045},{"t":223.5,"a":-0.03},{"t":224,"a":0.02},{"t":224.5,"a":-0.045},{"t":225,"a":0.03},{"t":225.5,"a":-0.01},{"t":226,"a":0.04},{"t":226.5,"a":-0.03},{"t":227,"a":0.01},{"t":227.5,"a":-0.04},
{"t":228,"a":-0.03},{"t":228.5,"a":0.03},{"t":229,"a":-0.045},{"t":229.5,"a":0.02},{"t":230,"a":-0.01},{"t":230.5,"a":0.04},{"t":231,"a":-0.03},{"t":231.5,"a":0.03},{"t":232,"a":-0.04},{"t":232.5,"a":0.01},{"t":233,"a":0.03},{"t":233.5,"a":-0.03},{"t":234,"a":0.04},{"t":234.5,"a":-0.02},{"t":235,"a":0.01},{"t":235.5,"a":-0.04},{"t":236,"a":0.045},{"t":236.5,"a":-0.03},{"t":237,"a":0.02},{"t":237.5,"a":-0.03},
{"t":238,"a":0.04},{"t":238.5,"a":-0.01},{"t":239,"a":0.03},{"t":239.5,"a":-0.04},{"t":240,"a":0.02}
],
"e": [
{"t":0,"a":0.04},{"t":0.5,"a":-0.01},{"t":1,"a":0.03},{"t":1.5,"a":-0.04},{"t":2,"a":0.02},{"t":2.5,"a":-0.03},{"t":3,"a":0.045},{"t":3.5,"a":-0.02},{"t":4,"a":0.01},{"t":4.5,"a":-0.03},{"t":5,"a":0.03},{"t":5.5,"a":-0.045},{"t":6,"a":0.03},{"t":6.5,"a":-0.01},{"t":7,"a":0.04},{"t":7.5,"a":-0.03},{"t":8,"a":0.01},{"t":8.5,"a":-0.04},{"t":9,"a":0.03},{"t":9.5,"a":-0.02},
{"t":10,"a":0.03},{"t":10.5,"a":-0.04},{"t":11,"a":0.01},{"t":11.5,"a":-0.02},{"t":12,"a":0.04},{"t":12.5,"a":-0.03},{"t":13,"a":0.01},{"t":13.5,"a":-0.045},{"t":14,"a":0.03},{"t":14.5,"a":-0.01},{"t":15,"a":0.045},{"t":15.5,"a":-0.03},{"t":16,"a":0.02},{"t":16.5,"a":-0.045},{"t":17,"a":0.03},{"t":17.5,"a":-0.01},{"t":18,"a":0.04},{"t":18.5,"a":-0.03},{"t":19,"a":0.01},{"t":19.5,"a":-0.04},
{"t":20,"a":-0.03},{"t":20.5,"a":0.03},{"t":21,"a":-0.045},{"t":21.5,"a":0.02},{"t":22,"a":-0.01},{"t":22.5,"a":0.04},{"t":23,"a":-0.03},{"t":23.5,"a":0.03},{"t":24,"a":-0.04},{"t":24.5,"a":0.01},{"t":25,"a":0.03},{"t":25.5,"a":-0.03},{"t":26,"a":0.04},{"t":26.5,"a":-0.02},{"t":27,"a":0.01},{"t":27.5,"a":-0.04},{"t":28,"a":0.045},{"t":28.5,"a":-0.03},{"t":29,"a":0.02},{"t":29.5,"a":-0.03},
{"t":30,"a":0.04},{"t":30.5,"a":-0.01},{"t":31,"a":0.03},{"t":31.5,"a":-0.04},{"t":32,"a":0.02},{"t":32.5,"a":-0.03},{"t":33,"a":0.045},{"t":33.5,"a":-0.02},{"t":34,"a":0.01},{"t":34.5,"a":-0.03},{"t":35,"a":0.03},{"t":35.5,"a":-0.045},{"t":36,"a":0.03},{"t":36.5,"a":-0.01},{"t":37,"a":0.04},{"t":37.5,"a":-0.03},{"t":38,"a":0.01},{"t":38.5,"a":-0.04},{"t":39,"a":0.03},{"t":39.5,"a":-0.02},
{"t":40,"a":0.03},{"t":40.5,"a":-0.04},{"t":41,"a":0.01},{"t":41.5,"a":-0.02},{"t":42,"a":0.04},{"t":42.5,"a":-0.03},{"t":43,"a":0.01},{"t":43.5,"a":-0.045},{"t":44,"a":0.03},{"t":44.5,"a":-0.01},{"t":45,"a":0.045},{"t":45.5,"a":-0.03},{"t":46,"a":0.02},{"t":46.5,"a":-0.045},{"t":47,"a":0.03},{"t":47.5,"a":-0.01},{"t":48,"a":0.04},{"t":48.5,"a":-0.03},{"t":49,"a":0.01},{"t":49.5,"a":-0.04},
{"t":50,"a":-0.03},{"t":50.5,"a":0.03},{"t":51,"a":-0.045},{"t":51.5,"a":0.02},{"t":52,"a":-0.01},{"t":52.5,"a":0.04},{"t":53,"a":-0.03},{"t":53.5,"a":0.03},{"t":54,"a":-0.04},{"t":54.5,"a":0.01},{"t":55,"a":0.03},{"t":55.5,"a":-0.03},{"t":56,"a":0.04},{"t":56.5,"a":-0.02},{"t":57,"a":0.01},{"t":57.5,"a":-0.04},{"t":58,"a":0.045},{"t":58.5,"a":-0.03},{"t":59,"a":0.02},{"t":59.5,"a":-0.03},
{"t":60,"a":0.04},{"t":60.5,"a":-0.03},{"t":61,"a":0.02},{"t":61.5,"a":-0.04},
{"t":62,"a":-0.05},{"t":62.15,"a":0.1},{"t":62.3,"a":0.2},{"t":62.45,"a":-0.25},{"t":62.6,"a":0.08},{"t":62.75,"a":-0.15},{"t":62.9,"a":0.12},{"t":63.05,"a":-0.08},{"t":63.2,"a":0.2},{"t":63.35,"a":-0.15},{"t":63.45,"a":2.73},{"t":63.55,"a":-1.68},{"t":63.7,"a":0.5},{"t":63.85,"a":-0.8},{"t":64,"a":1.58},{"t":64.1,"a":-1.28},{"t":64.2,"a":0.6},{"t":64.3,"a":-0.45},{"t":64.4,"a":0.35},{"t":64.5,"a":-0.55},{"t":64.6,"a":0.28},{"t":64.7,"a":-0.3},{"t":64.8,"a":0.38},{"t":64.9,"a":-0.2},{"t":65,"a":0.25},{"t":65.1,"a":-0.32},{"t":65.2,"a":0.15},{"t":65.3,"a":-0.22},{"t":65.4,"a":0.26},{"t":65.5,"a":-0.12},{"t":65.6,"a":0.2},{"t":65.7,"a":-0.18},{"t":65.8,"a":0.1},{"t":65.9,"a":-0.2},{"t":66,"a":0.15},{"t":66.15,"a":-0.1},{"t":66.3,"a":0.16},{"t":66.45,"a":-0.14},{"t":66.6,"a":0.08},{"t":66.75,"a":-0.12},{"t":66.9,"a":0.13},{"t":67.05,"a":-0.07},{"t":67.2,"a":0.11},{"t":67.35,"a":-0.12},{"t":67.5,"a":0.06},{"t":67.65,"a":-0.1},{"t":67.8,"a":0.1},{"t":67.95,"a":-0.06},{"t":68.1,"a":0.09},{"t":68.3,"a":-0.1},{"t":68.5,"a":0.06},{"t":68.7,"a":-0.08},{"t":68.9,"a":0.1},{"t":69.1,"a":-0.05},{"t":69.3,"a":0.08},{"t":69.5,"a":-0.09},{"t":69.7,"a":0.05},{"t":69.9,"a":-0.08},{"t":70.1,"a":0.09},{"t":70.35,"a":-0.06},{"t":70.6,"a":0.08},{"t":70.85,"a":-0.09},{"t":71.1,"a":0.05},{"t":71.35,"a":-0.07},{"t":71.6,"a":0.08},{"t":71.85,"a":-0.05},{"t":72.1,"a":0.07},{"t":72.35,"a":-0.08},{"t":72.6,"a":0.05},{"t":72.85,"a":-0.07},{"t":73.1,"a":0.09},{"t":73.35,"a":-0.05},{"t":73.6,"a":0.07},{"t":73.85,"a":-0.07},{"t":74.1,"a":0.04},{"t":74.35,"a":-0.07},{"t":74.6,"a":0.07},{"t":74.85,"a":-0.04},{"t":75.1,"a":0.06},{"t":75.5,"a":-0.07},{"t":76,"a":0.06},{"t":76.5,"a":-0.05},{"t":77,"a":0.07},{"t":77.5,"a":-0.06},{"t":78,"a":0.04},{"t":78.5,"a":-0.06},{"t":79,"a":0.06},{"t":79.5,"a":-0.04},{"t":80,"a":0.05},{"t":80.5,"a":-0.06},{"t":81,"a":0.04},{"t":81.5,"a":-0.05},{"t":82,"a":0.05},{"t":82.5,"a":-0.04},{"t":83,"a":0.05},{"t":83.5,"a":-0.05},{"t":84,"a":0.035},{"t":84.5,"a":-0.045},{"t":85,"a":0.045},{"t":85.5,"a":-0.035},{"t":86,"a":0.04},{"t":86.5,"a":-0.045},{"t":87,"a":0.035},{"t":87.5,"a":-0.04},{"t":88,"a":0.04},{"t":88.5,"a":-0.035},
{"t":89,"a":0.04},{"t":89.5,"a":-0.01},{"t":90,"a":0.03},{"t":90.5,"a":-0.04},{"t":91,"a":0.02},{"t":91.5,"a":-0.03},{"t":92,"a":0.045},{"t":92.5,"a":-0.02},{"t":93,"a":0.01},{"t":93.5,"a":-0.03},{"t":94,"a":0.03},{"t":94.5,"a":-0.045},{"t":95,"a":0.03},{"t":95.5,"a":-0.01},{"t":96,"a":0.04},{"t":96.5,"a":-0.03},{"t":97,"a":0.01},{"t":97.5,"a":-0.04},{"t":98,"a":0.03},{"t":98.5,"a":-0.02},
{"t":99,"a":0.03},{"t":99.5,"a":-0.04},{"t":100,"a":0.01},{"t":100.5,"a":-0.02},{"t":101,"a":0.04},{"t":101.5,"a":-0.03},{"t":102,"a":0.01},{"t":102.5,"a":-0.045},{"t":103,"a":0.03},{"t":103.5,"a":-0.01},{"t":104,"a":0.045},{"t":104.5,"a":-0.03},{"t":105,"a":0.02},{"t":105.5,"a":-0.045},
{"t":106,"a":-0.03},{"t":106.3,"a":0.07},{"t":106.5,"a":-0.07},{"t":106.8,"a":0.03},
{"t":107,"a":-0.03},{"t":107.5,"a":0.03},{"t":108,"a":-0.045},{"t":108.5,"a":0.02},{"t":109,"a":-0.01},{"t":109.5,"a":0.04},{"t":110,"a":-0.03},{"t":110.5,"a":0.03},{"t":111,"a":-0.04},{"t":111.5,"a":0.01},{"t":112,"a":0.03},{"t":112.5,"a":-0.03},{"t":113,"a":0.04},{"t":113.5,"a":-0.02},{"t":114,"a":0.01},{"t":114.5,"a":-0.04},{"t":115,"a":0.045},{"t":115.5,"a":-0.03},
{"t":116,"a":-0.04},{"t":116.5,"a":0.05},{"t":117,"a":-0.06},{"t":117.5,"a":0.07},{"t":118,"a":-0.05},{"t":118.25,"a":0.08},{"t":118.5,"a":-0.07},{"t":118.75,"a":0.06},{"t":119,"a":-0.08},{"t":119.25,"a":0.07},{"t":119.5,"a":-0.05},{"t":119.75,"a":0.07},{"t":120,"a":-0.07},{"t":120.25,"a":0.05},{"t":120.5,"a":-0.06},{"t":120.75,"a":0.07},{"t":121,"a":-0.05},{"t":121.5,"a":0.06},{"t":122,"a":-0.06},{"t":122.5,"a":0.05},{"t":123,"a":-0.05},{"t":123.5,"a":0.045},{"t":124,"a":-0.05},{"t":124.5,"a":0.04},{"t":125,"a":-0.045},{"t":125.5,"a":0.04},{"t":126,"a":-0.04},{"t":126.5,"a":0.035},
{"t":127,"a":0.04},{"t":127.5,"a":-0.01},{"t":128,"a":0.03},{"t":128.5,"a":-0.04},{"t":129,"a":0.02},{"t":129.5,"a":-0.03},{"t":130,"a":0.045},{"t":130.5,"a":-0.02},{"t":131,"a":0.01},{"t":131.5,"a":-0.03},{"t":132,"a":0.03},{"t":132.5,"a":-0.045},{"t":133,"a":0.03},{"t":133.5,"a":-0.01},{"t":134,"a":0.04},{"t":134.5,"a":-0.03},{"t":135,"a":0.01},{"t":135.5,"a":-0.04},{"t":136,"a":0.03},{"t":136.5,"a":-0.02},
{"t":137,"a":0.03},{"t":137.5,"a":-0.04},{"t":138,"a":0.01},{"t":138.5,"a":-0.02},{"t":139,"a":0.04},{"t":139.5,"a":-0.03},{"t":140,"a":0.01},{"t":140.5,"a":-0.045},{"t":141,"a":0.03},{"t":141.5,"a":-0.01},{"t":142,"a":0.045},{"t":142.5,"a":-0.03},{"t":143,"a":0.02},{"t":143.5,"a":-0.045},{"t":144,"a":0.03},{"t":144.5,"a":-0.01},{"t":145,"a":0.04},{"t":145.5,"a":-0.03},{"t":146,"a":0.01},{"t":146.5,"a":-0.04},
{"t":147,"a":-0.03},{"t":147.5,"a":0.03},{"t":148,"a":-0.045},{"t":148.5,"a":0.02},{"t":149,"a":-0.01},{"t":149.5,"a":0.04},{"t":150,"a":-0.03},{"t":150.5,"a":0.03},{"t":151,"a":-0.04},{"t":151.5,"a":0.01},{"t":152,"a":0.03},{"t":152.5,"a":-0.03},{"t":153,"a":0.04},{"t":153.5,"a":-0.02},{"t":154,"a":0.01},{"t":154.5,"a":-0.04},{"t":155,"a":0.045},{"t":155.5,"a":-0.03},{"t":156,"a":0.02},{"t":156.5,"a":-0.03},
{"t":157,"a":0.04},{"t":157.5,"a":-0.01},{"t":158,"a":0.03},{"t":158.5,"a":-0.04},{"t":159,"a":0.02},{"t":159.5,"a":-0.03},{"t":160,"a":0.045},{"t":160.5,"a":-0.02},{"t":161,"a":0.01},{"t":161.5,"a":-0.03},{"t":162,"a":0.03},{"t":162.5,"a":-0.045},{"t":163,"a":0.03},{"t":163.5,"a":-0.01},{"t":164,"a":0.04},{"t":164.5,"a":-0.03},{"t":165,"a":0.01},{"t":165.5,"a":-0.04},{"t":166,"a":0.03},{"t":166.5,"a":-0.02},
{"t":167,"a":0.03},{"t":167.5,"a":-0.04},{"t":168,"a":0.01},{"t":168.5,"a":-0.02},{"t":169,"a":0.04},{"t":169.5,"a":-0.03},{"t":170,"a":0.01},{"t":170.5,"a":-0.045},{"t":171,"a":0.03},{"t":171.5,"a":-0.01},{"t":172,"a":0.045},{"t":172.5,"a":-0.03},{"t":173,"a":0.02},{"t":173.5,"a":-0.045},{"t":174,"a":0.03},{"t":174.5,"a":-0.01},{"t":175,"a":0.04},{"t":175.5,"a":-0.03},{"t":176,"a":0.01},{"t":176.5,"a":-0.04},
{"t":177,"a":-0.03},{"t":177.5,"a":0.03},{"t":178,"a":-0.045},{"t":178.5,"a":0.02},{"t":179,"a":-0.01},{"t":179.5,"a":0.04},{"t":180,"a":-0.03},{"t":180.5,"a":0.03},{"t":181,"a":-0.04},{"t":181.5,"a":0.01},{"t":182,"a":0.03},{"t":182.5,"a":-0.03},{"t":183,"a":0.04},{"t":183.5,"a":-0.02},{"t":184,"a":0.01},{"t":184.5,"a":-0.04},{"t":185,"a":0.045},{"t":185.5,"a":-0.03},{"t":186,"a":0.02},{"t":186.5,"a":-0.03},
{"t":187,"a":0.04},{"t":187.5,"a":-0.01},{"t":188,"a":0.03},{"t":188.5,"a":-0.04},{"t":189,"a":0.02},{"t":189.5,"a":-0.03},{"t":190,"a":0.045},{"t":190.5,"a":-0.02},{"t":191,"a":0.01},{"t":191.5,"a":-0.03},{"t":192,"a":0.03},{"t":192.5,"a":-0.045},{"t":193,"a":0.03},{"t":193.5,"a":-0.01},{"t":194,"a":0.04},{"t":194.5,"a":-0.03},{"t":195,"a":0.01},{"t":195.5,"a":-0.04},{"t":196,"a":0.03},{"t":196.5,"a":-0.02},
{"t":197,"a":0.03},{"t":197.5,"a":-0.04},{"t":198,"a":0.01},{"t":198.5,"a":-0.02},{"t":199,"a":0.04},{"t":199.5,"a":-0.03},{"t":200,"a":0.01},{"t":200.5,"a":-0.045},{"t":201,"a":0.03},{"t":201.5,"a":-0.01},{"t":202,"a":0.045},{"t":202.5,"a":-0.03},{"t":203,"a":0.02},{"t":203.5,"a":-0.045},{"t":204,"a":0.03},{"t":204.5,"a":-0.01},{"t":205,"a":0.04},{"t":205.5,"a":-0.03},{"t":206,"a":0.01},{"t":206.5,"a":-0.04},
{"t":207,"a":-0.03},{"t":207.5,"a":0.03},{"t":208,"a":-0.045},{"t":208.5,"a":0.02},{"t":209,"a":-0.01},{"t":209.5,"a":0.04},{"t":210,"a":-0.03},{"t":210.5,"a":0.03},{"t":211,"a":-0.04},{"t":211.5,"a":0.01},{"t":212,"a":0.03},{"t":212.5,"a":-0.03},{"t":213,"a":0.04},{"t":213.5,"a":-0.02},{"t":214,"a":0.01},{"t":214.5,"a":-0.04},{"t":215,"a":0.045},{"t":215.5,"a":-0.03},{"t":216,"a":0.02},{"t":216.5,"a":-0.03},
{"t":217,"a":0.04},{"t":217.5,"a":-0.01},{"t":218,"a":0.03},{"t":218.5,"a":-0.04},{"t":219,"a":0.02},{"t":219.5,"a":-0.03},{"t":220,"a":0.045},{"t":220.5,"a":-0.02},{"t":221,"a":0.01},{"t":221.5,"a":-0.03},{"t":222,"a":0.03},{"t":222.5,"a":-0.045},{"t":223,"a":0.03},{"t":223.5,"a":-0.01},{"t":224,"a":0.04},{"t":224.5,"a":-0.03},{"t":225,"a":0.01},{"t":225.5,"a":-0.04},{"t":226,"a":0.03},{"t":226.5,"a":-0.02},
{"t":227,"a":0.03},{"t":227.5,"a":-0.04},{"t":228,"a":0.01},{"t":228.5,"a":-0.02},{"t":229,"a":0.04},{"t":229.5,"a":-0.03},{"t":230,"a":0.01},{"t":230.5,"a":-0.045},{"t":231,"a":0.03},{"t":231.5,"a":-0.01},{"t":232,"a":0.045},{"t":232.5,"a":-0.03},{"t":233,"a":0.02},{"t":233.5,"a":-0.045},{"t":234,"a":0.03},{"t":234.5,"a":-0.01},{"t":235,"a":0.04},{"t":235.5,"a":-0.03},{"t":236,"a":0.01},{"t":236.5,"a":-0.04},
{"t":237,"a":0.03},{"t":237.5,"a":-0.04},{"t":238,"a":0.01},{"t":238.5,"a":-0.02},{"t":239,"a":0.04},{"t":239.5,"a":-0.03}
]
},
"vconcat": [
{
 "width": 576, "height": 135,
 "data": {"name": "z"},
 "resolve": {"axis": {"x": "independent", "y": "independent"}},
 "layer": [
  {"mark": {"type": "line", "color": "#ff0000", "strokeWidth": 1, "clip": true},
   "encoding": {
    "x": {"field": "t", "type": "quantitative", "scale": {"domain": [-0.7, 240.8], "nice": false, "zero": false}, "axis": null},
    "y": {"field": "a", "type": "quantitative", "scale": {"domain": [-1.147, 0.946], "nice": false, "zero": false},
      "axis": {"orient": "left", "values": [-1,-0.5,0,0.5], "format": ".1f", "ticks": false, "tickSize": 0, "domain": false, "labelPadding": 3, "title": null}}
   }},
  {"transform": [{"filter": "datum.t < 1"}], "mark": {"type": "point", "opacity": 0},
   "encoding": {
    "x": {"field": "t", "type": "quantitative", "axis": {"orient": "bottom", "values": [0,50,100,150,200], "tickSize": -8, "labels": false, "domain": true, "title": null}},
    "y": {"field": "a", "type": "quantitative", "axis": {"orient": "left", "values": [-1,-0.5,0,0.5], "tickSize": -8, "labels": false, "domain": true, "title": null}}
   }},
  {"transform": [{"filter": "datum.t < 1"}], "mark": {"type": "point", "opacity": 0},
   "encoding": {
    "x": {"field": "t", "type": "quantitative", "axis": {"orient": "bottom", "values": [10,20,30,40,60,70,80,90,110,120,130,140,160,170,180,190,210,220,230,240], "tickSize": -4, "labels": false, "domain": false, "title": null}},
    "y": {"field": "a", "type": "quantitative", "axis": {"orient": "left", "values": [-0.75,-0.25,0.25,0.75], "tickSize": -4, "labels": false, "domain": false, "title": null}}
   }},
  {"transform": [{"filter": "datum.t < 1"}], "mark": {"type": "point", "opacity": 0},
   "encoding": {
    "x": {"field": "t", "type": "quantitative", "axis": {"orient": "top", "values": [0,50,100,150,200], "tickSize": -8, "labels": false, "domain": true, "title": null}},
    "y": {"field": "a", "type": "quantitative", "axis": {"orient": "right", "values": [-1,-0.5,0,0.5], "tickSize": -8, "labels": false, "domain": true, "title": null}}
   }},
  {"transform": [{"filter": "datum.t < 1"}], "mark": {"type": "point", "opacity": 0},
   "encoding": {
    "x": {"field": "t", "type": "quantitative", "axis": {"orient": "top", "values": [10,20,30,40,60,70,80,90,110,120,130,140,160,170,180,190,210,220,230,240], "tickSize": -4, "labels": false, "domain": false, "title": null}},
    "y": {"field": "a", "type": "quantitative", "axis": {"orient": "right", "values": [-0.75,-0.25,0.25,0.75], "tickSize": -4, "labels": false, "domain": false, "title": null}}
   }},
  {"data": {"values": [{}]},
   "mark": {"type": "text", "align": "left", "baseline": "top", "font": "DejaVu Sans Condensed, Roboto, sans-serif", "fontSize": 12, "lineHeight": 14.5, "color": "#333333"},
   "encoding": {
    "x": {"datum": 192.1, "type": "quantitative", "axis": null},
    "y": {"datum": 0.667, "type": "quantitative", "axis": null},
    "text": {"value": ["SBEB\u00a0\u00a0\u00a0Z", "OCT 02 (275), 2023", "20:48:01.515"]}
   }}
 ]
},
{
 "width": 576, "height": 135,
 "data": {"name": "n"},
 "resolve": {"axis": {"x": "independent", "y": "independent"}},
 "layer": [
  {"mark": {"type": "line", "color": "#ff0000", "strokeWidth": 1, "clip": true},
   "encoding": {
    "x": {"field": "t", "type": "quantitative", "scale": {"domain": [-0.7, 240.8], "nice": false, "zero": false}, "axis": null},
    "y": {"field": "a", "type": "quantitative", "scale": {"domain": [-2.75, 3.83], "nice": false, "zero": false},
      "axis": {"orient": "left", "values": [-2,0,2], "format": "d", "ticks": false, "tickSize": 0, "domain": false, "labelPadding": 3, "title": "Amplitud [cm/s/s]", "titleX": -13, "titleY": 66}}
   }},
  {"transform": [{"filter": "datum.t < 1"}], "mark": {"type": "point", "opacity": 0},
   "encoding": {
    "x": {"field": "t", "type": "quantitative", "axis": {"orient": "bottom", "values": [0,50,100,150,200], "tickSize": -8, "labels": false, "domain": true, "title": null}},
    "y": {"field": "a", "type": "quantitative", "axis": {"orient": "left", "values": [-2,0,2], "tickSize": -8, "labels": false, "domain": true, "title": null}}
   }},
  {"transform": [{"filter": "datum.t < 1"}], "mark": {"type": "point", "opacity": 0},
   "encoding": {
    "x": {"field": "t", "type": "quantitative", "axis": {"orient": "bottom", "values": [10,20,30,40,60,70,80,90,110,120,130,140,160,170,180,190,210,220,230,240], "tickSize": -4, "labels": false, "domain": false, "title": null}},
    "y": {"field": "a", "type": "quantitative", "axis": {"orient": "left", "values": [-1,1,3], "tickSize": -4, "labels": false, "domain": false, "title": null}}
   }},
  {"transform": [{"filter": "datum.t < 1"}], "mark": {"type": "point", "opacity": 0},
   "encoding": {
    "x": {"field": "t", "type": "quantitative", "axis": {"orient": "top", "values": [0,50,100,150,200], "tickSize": -8, "labels": false, "domain": true, "title": null}},
    "y": {"field": "a", "type": "quantitative", "axis": {"orient": "right", "values": [-2,0,2], "tickSize": -8, "labels": false, "domain": true, "title": null}}
   }},
  {"transform": [{"filter": "datum.t < 1"}], "mark": {"type": "point", "opacity": 0},
   "encoding": {
    "x": {"field": "t", "type": "quantitative", "axis": {"orient": "top", "values": [10,20,30,40,60,70,80,90,110,120,130,140,160,170,180,190,210,220,230,240], "tickSize": -4, "labels": false, "domain": false, "title": null}},
    "y": {"field": "a", "type": "quantitative", "axis": {"orient": "right", "values": [-1,1,3], "tickSize": -4, "labels": false, "domain": false, "title": null}}
   }},
  {"data": {"values": [{}]},
   "mark": {"type": "text", "align": "left", "baseline": "top", "font": "DejaVu Sans Condensed, Roboto, sans-serif", "fontSize": 12, "lineHeight": 14.5, "color": "#333333"},
   "encoding": {
    "x": {"datum": 192.1, "type": "quantitative", "axis": null},
    "y": {"datum": 2.953, "type": "quantitative", "axis": null},
    "text": {"value": ["SBEB\u00a0\u00a0\u00a0N", "OCT 02 (275), 2023", "20:48:00.480"]}
   }}
 ]
},
{
 "width": 576, "height": 135,
 "data": {"name": "e"},
 "resolve": {"axis": {"x": "independent", "y": "independent"}},
 "layer": [
  {"mark": {"type": "line", "color": "#ff0000", "strokeWidth": 1, "clip": true},
   "encoding": {
    "x": {"field": "t", "type": "quantitative", "scale": {"domain": [-0.7, 240.8], "nice": false, "zero": false},
      "axis": {"orient": "bottom", "values": [0,50,100,150,200], "format": "d", "ticks": false, "tickSize": 0, "domain": false, "labelPadding": 3, "title": "Tiempo [s]", "titlePadding": 5, "titleFontSize": 13}},
    "y": {"field": "a", "type": "quantitative", "scale": {"domain": [-1.8, 2.84], "nice": false, "zero": false},
      "axis": {"orient": "left", "values": [-1,0,1,2], "format": "d", "ticks": false, "tickSize": 0, "domain": false, "labelPadding": 3, "title": null}}
   }},
  {"transform": [{"filter": "datum.t < 1"}], "mark": {"type": "point", "opacity": 0},
   "encoding": {
    "x": {"field": "t", "type": "quantitative", "axis": {"orient": "bottom", "values": [0,50,100,150,200], "tickSize": -8, "labels": false, "domain": true, "title": null}},
    "y": {"field": "a", "type": "quantitative", "axis": {"orient": "left", "values": [-1,0,1,2], "tickSize": -8, "labels": false, "domain": true, "title": null}}
   }},
  {"transform": [{"filter": "datum.t < 1"}], "mark": {"type": "point", "opacity": 0},
   "encoding": {
    "x": {"field": "t", "type": "quantitative", "axis": {"orient": "bottom", "values": [10,20,30,40,60,70,80,90,110,120,130,140,160,170,180,190,210,220,230,240], "tickSize": -4, "labels": false, "domain": false, "title": null}},
    "y": {"field": "a", "type": "quantitative", "axis": {"orient": "left", "values": [-1.5,-0.5,0.5,1.5,2.5], "tickSize": -4, "labels": false, "domain": false, "title": null}}
   }},
  {"transform": [{"filter": "datum.t < 1"}], "mark": {"type": "point", "opacity": 0},
   "encoding": {
    "x": {"field": "t", "type": "quantitative", "axis": {"orient": "top", "values": [0,50,100,150,200], "tickSize": -8, "labels": false, "domain": true, "title": null}},
    "y": {"field": "a", "type": "quantitative", "axis": {"orient": "right", "values": [-1,0,1,2], "tickSize": -8, "labels": false, "domain": true, "title": null}}
   }},
  {"transform": [{"filter": "datum.t < 1"}], "mark": {"type": "point", "opacity": 0},
   "encoding": {
    "x": {"field": "t", "type": "quantitative", "axis": {"orient": "top", "values": [10,20,30,40,60,70,80,90,110,120,130,140,160,170,180,190,210,220,230,240], "tickSize": -4, "labels": false, "domain": false, "title": null}},
    "y": {"field": "a", "type": "quantitative", "axis": {"orient": "right", "values": [-1.5,-0.5,0.5,1.5,2.5], "tickSize": -4, "labels": false, "domain": false, "title": null}}
   }},
  {"data": {"values": [{}]},
   "mark": {"type": "text", "align": "left", "baseline": "top", "font": "DejaVu Sans Condensed, Roboto, sans-serif", "fontSize": 12, "lineHeight": 14.5, "color": "#333333"},
   "encoding": {
    "x": {"datum": 192.1, "type": "quantitative", "axis": null},
    "y": {"datum": 2.222, "type": "quantitative", "axis": null},
    "text": {"value": ["SBEB\u00a0\u00a0\u00a0E", "OCT 02 (275), 2023", "20:48:02.495"]}
   }}
 ]
}
]
}
